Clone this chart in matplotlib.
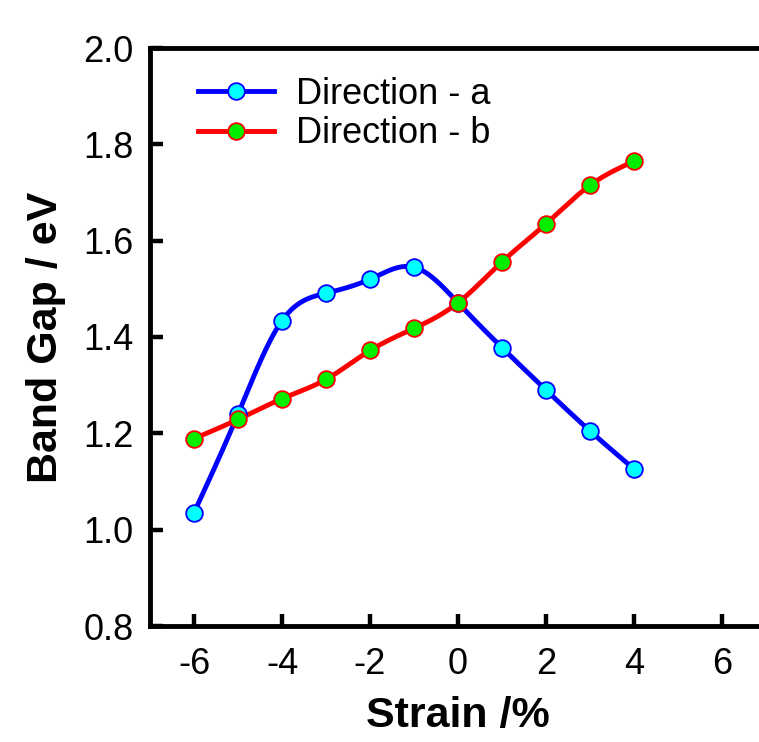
import numpy as np
import matplotlib
matplotlib.use("Agg")
import matplotlib.pyplot as plt

strain = [-6, -5, -4, -3, -2, -1, 0, 1, 2, 3, 4]
gap_a = [1.035, 1.240, 1.434, 1.491, 1.520, 1.545, 1.471, 1.378, 1.290, 1.205, 1.126]
gap_b = [1.189, 1.229, 1.272, 1.312, 1.372, 1.418, 1.471, 1.556, 1.635, 1.715, 1.765]


def smooth(x, y, n=300):
    # natural cubic spline through the points, just for drawing the curve
    x = np.asarray(x, float)
    y = np.asarray(y, float)
    k = len(x)
    h = np.diff(x)
    A = np.zeros((k, k))
    r = np.zeros(k)
    A[0, 0] = A[-1, -1] = 1
    for i in range(1, k - 1):
        A[i, i - 1] = h[i - 1]
        A[i, i] = 2 * (h[i - 1] + h[i])
        A[i, i + 1] = h[i]
        r[i] = 6 * ((y[i + 1] - y[i]) / h[i] - (y[i] - y[i - 1]) / h[i - 1])
    m = np.linalg.solve(A, r)
    xs = np.linspace(x[0], x[-1], n)
    idx = np.clip(np.searchsorted(x, xs) - 1, 0, k - 2)
    t0 = x[idx]
    t1 = x[idx + 1]
    hh = t1 - t0
    ys = (m[idx] * (t1 - xs) ** 3 / (6 * hh) + m[idx + 1] * (xs - t0) ** 3 / (6 * hh)
          + (y[idx] / hh - m[idx] * hh / 6) * (t1 - xs)
          + (y[idx + 1] / hh - m[idx + 1] * hh / 6) * (xs - t0))
    return xs, ys


plt.rcParams['font.family'] = ['Liberation Sans', 'DejaVu Sans']
plt.rcParams['axes.unicode_minus'] = False

fig = plt.figure(figsize=(7.59, 7.42), dpi=100)
ax = fig.add_axes([150 / 759, 116 / 742, 616 / 759, 578 / 742])

lw = 3.5
ms = 12
xs, ys = smooth(strain, gap_a)
ax.plot(xs, ys, color='#0000ff', lw=lw, zorder=2)
xs, ys = smooth(strain, gap_b)
ax.plot(xs, ys, color='#ff0000', lw=lw, zorder=2)

ax.plot(strain, gap_a, 'o', ms=ms, mfc='#00ffff', mec='#0000ff', mew=1.3, zorder=3)
ax.plot(strain, gap_b, 'o', ms=ms, mfc='#00ee00', mec='#ff0000', mew=1.3, zorder=4)

# legend proxies
ax.plot([], [], '-o', color='#0000ff', lw=lw, ms=ms, mfc='#00ffff', mec='#0000ff',
        mew=1.3, label='Direction - a')
ax.plot([], [], '-o', color='#ff0000', lw=lw, ms=ms, mfc='#00ee00', mec='#ff0000',
        mew=1.3, label='Direction - b')
ax.legend(loc='upper left', bbox_to_anchor=(0.055, 0.975), frameon=False, fontsize=26,
          handlelength=2.1, handletextpad=0.6, labelspacing=0.12, borderaxespad=0)

ax.set_xlim(-7, 7)
ax.set_ylim(0.8, 2.0)
ax.set_xticks([-6, -4, -2, 0, 2, 4, 6])
ax.set_yticks([0.8, 1.0, 1.2, 1.4, 1.6, 1.8, 2.0])
ax.set_yticklabels(['0.8', '1.0', '1.2', '1.4', '1.6', '1.8', '2.0'])
ax.tick_params(direction='in', length=9, width=3.2, labelsize=26)
ax.tick_params(axis='x', pad=15)
ax.tick_params(axis='y', pad=12)

for s in ax.spines.values():
    s.set_linewidth(3.5)

ax.set_xlabel('Strain /%', fontsize=31, fontweight='bold', labelpad=10)
ax.set_ylabel('Band Gap / eV', fontsize=31, fontweight='bold', labelpad=12)

fig.savefig('out.png', dpi=100)
